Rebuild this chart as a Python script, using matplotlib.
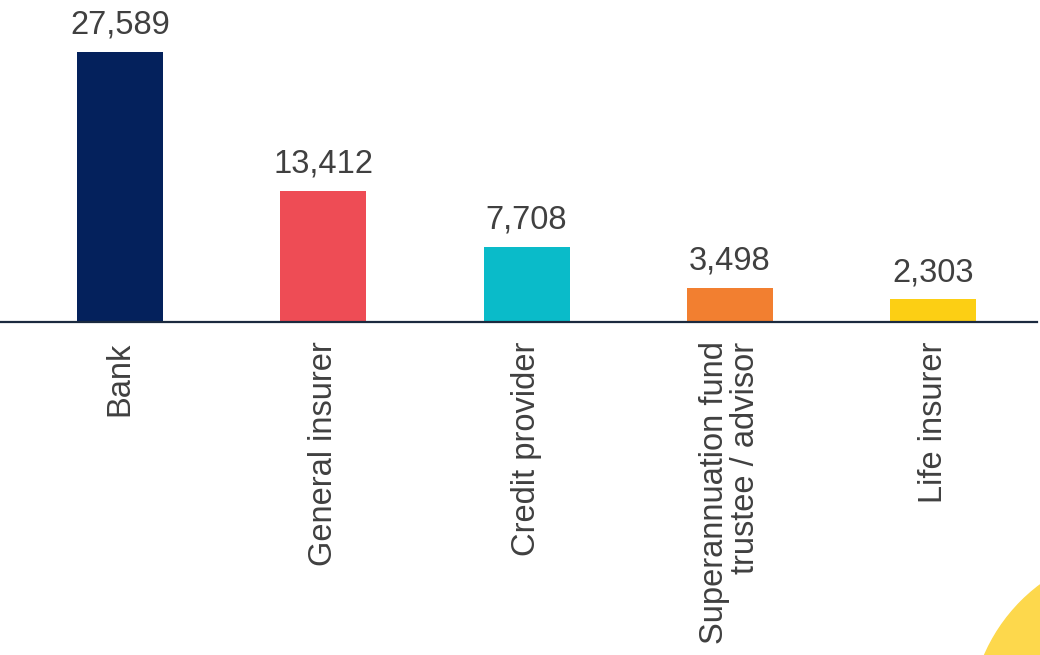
import matplotlib.pyplot as plt
from matplotlib.patches import Ellipse

# complaint counts by firm type
categories = ["Bank", "General insurer", "Credit provider",
              "Superannuation fund\ntrustee / advisor", "Life insurer"]
values = [27589, 13412, 7708, 3498, 2303]
colors = ["#04215c", "#ee4c55", "#0abbc9", "#f27f30", "#fccf14"]

plt.rcParams['font.family'] = ['Liberation Sans', 'DejaVu Sans']

fig = plt.figure(figsize=(10.4, 6.55), dpi=100)

# decorative yellow blob in the bottom right corner (pixel centre 1145,725 r=175)
blob = Ellipse((1145 / 1040, (655 - 725) / 655), 2 * 175 / 1040, 2 * 175 / 655,
               transform=fig.transFigure, color="#fdd84c", zorder=0)
fig.patches.append(blob)

ax = fig.add_axes([0.0, 0.5084, 0.997, 0.4916])
x = range(len(categories))
bars = ax.bar(x, values, width=0.423, color=colors, zorder=2)

for b, v in zip(bars, values):
    ax.annotate(f"{v:,}", (b.get_x() + b.get_width() / 2, v),
                xytext=(0, 8), textcoords="offset points",
                ha="center", va="bottom", fontsize=23.5, color="#404040")

ax.set_xlim(-0.59, 4.51)
ax.set_ylim(0, 32900)
ax.set_xticks(list(x))
ax.set_xticklabels(categories, rotation=90, fontsize=23.5, color="#404040",
                   ha="center", va="top", linespacing=1.0,
                   multialignment="right")
ax.tick_params(axis="x", length=0, pad=14)
ax.set_yticks([])

for s in ["top", "right", "left"]:
    ax.spines[s].set_visible(False)
ax.spines["bottom"].set_color("#1b2a3f")
ax.spines["bottom"].set_linewidth(1.6)
ax.patch.set_alpha(0)

fig.savefig("out.png", dpi=100)
